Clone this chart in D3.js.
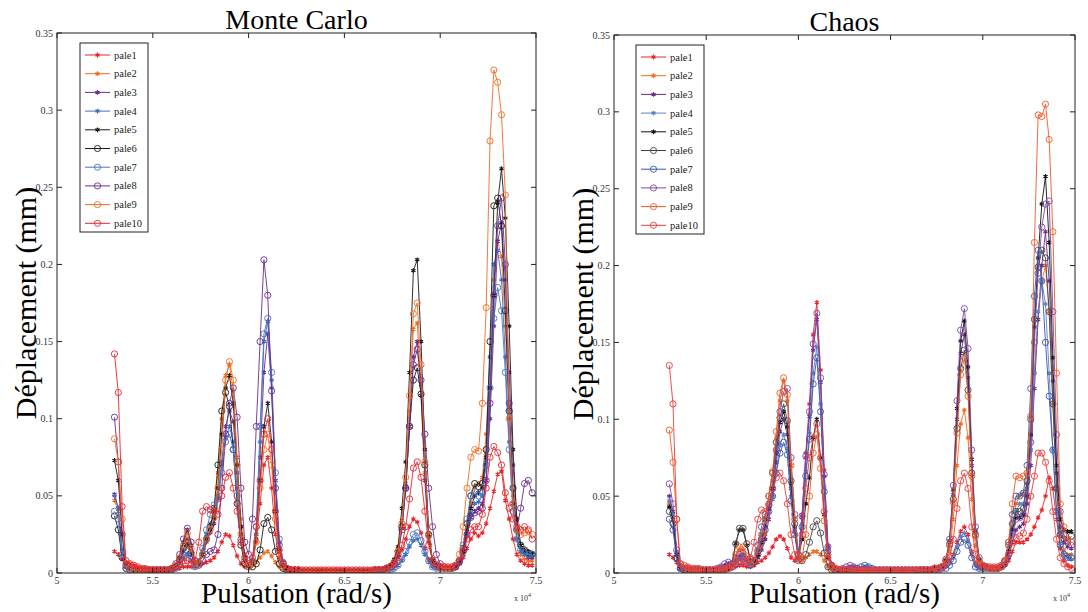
<!DOCTYPE html>
<html><head><meta charset="utf-8">
<script src="https://cdn.jsdelivr.net/npm/d3@7"></script>
<style>
body{margin:0;background:#fff}
svg{display:block}
</style>
</head><body>
<svg id="chart" width="1088" height="612" font-family="'Liberation Serif','Times New Roman',Times,serif"></svg>
<script>
// Pulsation (x 10^4 rad/s)
const pulsation = [
5.30,5.32,5.34,5.36,5.38,5.40,5.42,5.44,5.46,5.48,
5.50,5.52,5.54,5.56,5.58,5.60,5.62,5.64,5.66,5.68,
5.70,5.72,5.74,5.76,5.78,5.80,5.82,5.84,5.86,5.88,
5.90,5.92,5.94,5.96,5.98,6.00,6.02,6.04,6.06,6.08,
6.10,6.12,6.14,6.16,6.18,6.20,6.22,6.24,6.26,6.28,
6.30,6.32,6.34,6.36,6.38,6.40,6.42,6.44,6.46,6.48,
6.50,6.52,6.54,6.56,6.58,6.60,6.62,6.64,6.66,6.68,
6.70,6.72,6.74,6.76,6.78,6.80,6.82,6.84,6.86,6.88,
6.90,6.92,6.94,6.96,6.98,7.00,7.02,7.04,7.06,7.08,
7.10,7.12,7.14,7.16,7.18,7.20,7.22,7.24,7.26,7.28,
7.30,7.32,7.34,7.36,7.38,7.40,7.42,7.44,7.46,7.48];

const seriesNames = ["pale1","pale2","pale3","pale4","pale5","pale6","pale7","pale8","pale9","pale10"];

// Déplacement in micrometres (1e-3 mm) — Monte Carlo
const mcPale1 = [14,12,9,7,6,5,4,3,3,2, 2,2,2,2,2,2,3,3,4,4, 4,4,5,6,7,8,10,14,20,25, 24,18,11,6,4,4,8,20,45,70, 75,55,25,10,5,3,2,2,2,2, 2,2,2,2,2,2,2,2,2,2, 2,2,2,2,2,2,2,2,3,3, 3,4,5,7,10,15,22,30,35,33, 26,16,9,5,4,3,3,3,3,4, 6,10,16,22,26,24,26,32,42,53, 64,66,47,35,22,12,8,6,5,5];
const mcPale2 = [47,40,14,4,3,2,2,2,2,2, 2,2,2,2,2,2,3,6,15,22, 14,6,8,15,25,30,40,65,100,128, 135,118,75,35,12,5,5,7,10,13, 14,11,7,4,3,2,2,2,2,1, 1,1,1,1,1,1,1,1,1,1, 1,1,1,1,1,1,1,2,2,2, 2,3,4,7,14,34,58,105,158,162, 122,65,22,8,5,4,3,3,3,4, 8,16,30,45,55,58,62,90,140,190, 215,205,160,100,50,22,12,9,8,8];
const mcPale3 = [51,42,15,4,3,2,2,2,2,2, 2,2,2,2,2,3,4,8,14,18, 12,5,6,12,20,26,32,48,72,95, 105,98,65,30,10,5,8,25,75,130, 155,120,60,20,7,3,2,2,2,1, 1,1,1,1,1,1,1,1,1,1, 1,1,1,1,1,1,1,1,2,2, 2,3,4,6,12,30,55,95,140,150, 115,60,20,8,5,4,3,3,3,4, 6,12,25,36,40,42,45,60,100,160, 215,227,190,130,70,35,18,12,10,10];
const mcPale4 = [50,42,15,4,3,2,2,2,2,2, 2,2,2,2,2,2,3,6,10,12, 8,4,6,14,25,32,38,50,70,88, 95,85,55,25,8,4,7,25,85,150, 163,125,60,20,7,3,2,2,2,1, 1,1,1,1,1,1,1,1,1,1, 1,1,1,1,1,1,1,1,1,1, 1,2,2,3,5,8,12,17,21,22, 18,12,7,4,3,3,3,3,3,4, 6,12,25,38,45,46,50,75,140,200, 209,190,140,85,45,22,14,12,11,12];
const mcPale5 = [73,60,25,5,3,2,2,2,2,2, 2,2,2,2,2,3,5,10,20,28, 18,7,6,12,22,28,35,55,90,120, 128,110,70,30,10,5,8,22,60,95, 110,85,40,15,5,3,2,2,2,1, 1,1,1,1,1,1,1,1,1,1, 1,1,1,1,1,1,1,1,2,2, 2,3,5,9,17,42,72,130,196,203, 150,80,25,8,5,4,3,3,3,4, 7,14,28,42,50,52,55,75,120,180, 240,262,230,160,80,35,18,15,14,13];
const mcPale6 = [37,28,10,3,2,2,2,2,2,2, 2,2,2,2,2,3,4,9,16,20, 13,6,6,12,22,30,42,70,105,117, 108,80,45,18,6,4,4,6,15,32, 36,28,14,6,3,2,2,1,1,1, 1,1,1,1,1,1,1,1,1,1, 1,1,1,1,1,1,1,1,2,2, 2,3,4,7,14,30,55,95,125,133, 116,70,25,8,5,4,3,3,3,4, 8,16,32,50,58,56,58,80,150,238, 243,225,170,105,55,28,18,15,13,12];
const mcPale7 = [40,35,12,3,2,2,2,2,2,2, 2,2,2,2,2,2,3,6,10,14, 9,4,7,16,28,38,44,48,65,85, 90,80,50,22,8,4,8,30,95,155, 165,130,65,22,7,3,2,2,2,1, 1,1,1,1,1,1,1,1,1,1, 1,1,1,1,1,1,1,1,1,1, 1,2,2,3,5,9,14,20,25,26, 21,14,8,4,3,3,3,3,3,4, 8,18,35,50,53,50,52,70,120,165, 185,170,130,80,40,22,15,13,12,12];
const mcPale8 = [101,72,25,5,3,2,2,2,2,2, 2,2,2,2,2,3,6,12,22,29, 20,8,5,8,12,14,15,25,55,90, 110,120,101,55,20,12,35,95,150,203, 180,118,55,18,6,3,2,2,2,1, 1,1,1,1,1,1,1,1,1,1, 1,1,1,1,1,1,1,1,2,2, 2,3,4,6,12,28,55,95,135,145, 125,90,55,30,12,6,4,3,3,4, 7,14,25,36,39,40,42,60,110,180, 225,243,200,110,45,28,42,58,60,52];
const mcPale9 = [87,72,35,6,3,2,2,2,2,2, 2,2,2,2,2,3,5,10,18,26, 16,6,6,12,22,28,36,55,80,125, 137,125,70,25,8,4,6,20,55,80, 90,70,35,12,5,3,2,2,2,1, 1,1,1,1,1,1,1,1,1,1, 1,1,1,1,1,1,1,1,2,2, 2,3,4,7,14,32,62,115,168,175, 135,72,24,8,5,4,3,3,3,5, 12,30,55,75,80,79,110,172,280,326, 318,297,245,100,45,28,25,26,27,25];
const mcPale10 = [142,117,43,8,6,5,4,3,3,2, 2,2,2,2,2,3,4,6,8,8, 6,8,20,40,43,41,40,38,50,62, 65,55,40,20,10,6,10,30,60,90, 100,80,40,15,6,3,2,2,2,2, 2,2,2,2,2,2,2,2,2,2, 2,2,2,2,2,2,2,2,2,2, 2,3,4,6,10,18,30,48,68,72, 62,40,18,8,5,4,4,4,4,5, 8,14,22,28,30,30,38,55,75,82, 78,70,52,42,35,30,28,30,28,22];

// Déplacement in micrometres (1e-3 mm) — Chaos
const chPale1 = [12,10,7,5,4,4,3,3,3,2, 2,2,2,2,3,3,3,3,4,5, 5,4,4,5,7,8,10,13,17,22, 24,22,16,10,8,10,38,78,110,155, 176,132,67,18,6,3,2,2,2,2, 2,2,2,2,2,2,2,2,2,2, 2,2,2,2,2,2,2,2,2,3, 3,3,4,4,5,6,8,12,20,27, 30,25,14,6,4,3,3,3,3,3, 4,5,8,14,20,20,20,22,25,30, 36,41,50,62,55,35,16,8,5,4];
const chPale2 = [45,35,12,3,2,2,2,2,2,2, 2,2,2,2,2,2,3,5,11,15, 15,9,5,7,12,18,25,40,60,88, 112,125,112,70,35,12,8,10,12,14, 14,12,8,4,2,2,2,2,2,2, 1,1,1,1,1,1,1,1,1,1, 1,1,1,1,1,1,1,1,2,2, 2,2,3,3,4,6,14,35,70,97, 106,88,48,18,6,4,3,3,3,3, 4,6,12,28,45,50,52,58,80,130, 165,190,200,170,110,55,25,15,12,12];
const chPale3 = [50,40,13,3,2,2,2,2,2,2, 2,2,2,3,4,5,6,5,8,11, 12,8,5,6,10,15,22,35,50,72, 92,100,90,55,28,10,36,75,102,145, 165,124,63,17,5,3,2,2,3,4, 4,3,2,2,2,2,2,2,2,2, 2,2,2,2,2,2,2,2,2,2, 2,2,3,3,4,8,20,51,100,143, 155,127,70,26,9,5,4,3,3,3, 4,5,10,20,28,30,32,45,70,120, 165,200,222,190,125,65,30,20,17,16];
const chPale4 = [47,38,14,3,2,2,2,2,2,2, 2,2,2,2,2,2,3,4,6,9, 10,7,5,8,15,25,35,40,48,66, 83,90,81,50,27,9,32,66,91,130, 147,110,56,15,5,3,2,2,2,2, 2,2,3,4,4,3,2,2,2,2, 2,2,2,2,2,2,2,2,2,2, 1,2,2,2,3,4,6,10,17,24, 26,21,12,5,3,3,3,3,3,3, 4,6,12,25,40,45,45,55,80,130, 170,190,175,130,80,40,18,12,10,9];
const chPale5 = [43,35,12,3,2,2,2,2,2,2, 2,2,2,2,2,2,3,6,19,28, 28,18,8,7,12,20,30,42,55,78, 98,105,95,58,30,10,22,45,62,88, 100,75,38,10,4,2,2,2,2,2, 1,1,1,1,1,1,1,1,1,1, 1,1,1,1,1,1,1,1,2,2, 2,2,3,3,4,8,21,54,107,151, 164,134,74,28,9,5,4,3,3,3, 4,6,14,28,36,36,38,50,90,160, 205,240,258,215,140,70,35,28,27,27];
const chPale6 = [40,32,10,3,2,2,2,2,2,2, 2,2,2,2,2,2,3,6,19,29, 29,19,9,7,12,22,35,50,65,85, 101,110,99,60,32,12,8,12,20,30, 34,26,13,4,2,2,2,2,2,2, 1,1,1,1,1,1,1,1,1,1, 1,1,1,1,1,1,1,1,2,2, 2,2,3,3,4,8,19,48,94,133, 145,119,65,25,8,5,4,3,3,3, 4,8,18,32,40,40,42,60,100,165, 199,210,205,170,110,55,25,22,21,24];
const chPale7 = [35,28,9,3,2,2,2,2,2,2, 2,2,2,2,2,2,3,4,6,8, 9,7,5,8,18,30,38,44,50,65, 78,85,77,47,25,9,30,63,87,123, 140,105,53,14,5,3,2,2,2,2, 2,3,4,5,4,3,2,2,2,2, 2,2,2,2,2,2,2,2,2,2, 1,2,2,2,3,3,5,8,14,20, 22,18,10,4,3,3,3,3,3,3, 4,8,20,38,50,50,52,70,120,180, 210,190,150,115,80,40,18,12,10,10];
const chPale8 = [58,45,15,4,2,2,2,2,2,2, 2,2,2,3,4,6,7,6,9,12, 13,9,6,8,14,20,28,40,55,80, 105,118,120,75,38,12,37,76,105,149, 169,127,64,17,5,3,2,3,4,5, 4,3,2,2,2,2,2,2,2,2, 2,2,2,2,2,2,2,2,2,2, 2,2,3,3,4,9,22,57,112,158, 172,146,80,30,10,5,4,3,3,3, 4,6,12,25,35,36,38,50,85,150, 195,225,240,242,170,90,40,25,20,18];
const chPale9 = [93,72,35,6,3,2,2,2,2,2, 2,2,2,2,2,2,3,5,12,17, 17,11,6,8,15,25,35,50,66,92, 117,127,116,70,35,10,10,25,50,78, 90,68,34,10,4,3,2,2,2,2, 1,1,1,1,1,1,1,1,1,1, 1,1,1,1,1,1,1,1,2,2, 2,2,3,3,4,8,18,46,91,129, 140,115,63,24,8,5,4,3,3,3, 4,8,20,45,63,62,63,65,102,215, 298,297,305,282,222,130,45,30,22,20];
const chPale10 = [135,110,35,6,5,4,3,3,3,2, 2,2,2,2,2,3,3,4,6,8, 8,7,10,20,35,41,40,45,55,62, 65,60,45,25,12,8,25,55,75,88, 97,75,40,12,5,3,2,2,2,2, 2,2,2,2,2,2,2,2,2,2, 2,2,2,2,2,2,2,2,2,2, 2,2,3,3,4,6,10,22,42,60, 65,55,30,12,6,4,4,4,4,4, 5,7,12,20,23,24,26,35,50,63, 78,78,72,60,40,22,10,6,4,3];

const mcSeries = [mcPale1,mcPale2,mcPale3,mcPale4,mcPale5,mcPale6,mcPale7,mcPale8,mcPale9,mcPale10];
const chSeries = [chPale1,chPale2,chPale3,chPale4,chPale5,chPale6,chPale7,chPale8,chPale9,chPale10];

const xTicks = [5,5.5,6,6.5,7,7.5];
const xTickLabels = ["5","5.5","6","6.5","7","7.5"];
const yTicks = [0,0.05,0.1,0.15,0.2,0.25,0.3,0.35];
const yTickLabels = ["0","0.05","0.1","0.15","0.2","0.25","0.3","0.35"];
const panelTitles = ["Monte Carlo","Chaos"];
const xLabel = "Pulsation (rad/s)";
const yLabel = "Déplacement (mm)";

// styles
const FONT = "'Liberation Serif','Times New Roman',Times,serif";
const mcColors = ["#e8262d","#f26c21","#6b2d8f","#3f6fba","#1a1a1a","#1a1a1a","#4a74c0","#6b2d8f","#f26c21","#e8262d"];
const chColors = ["#e8262d","#f26c21","#6b2d8f","#5b82c8","#111111","#444444","#3556a8","#7d46a3","#f15a24","#ec3b3b"];
const markers = ["star","star","star","star","star","circle","circle","circle","circle","circle"];

const svg = d3.select("#chart");

function T(sel){ return sel.attr("font-family",FONT); }

function drawPanel(cfg){
  const {left,right,top,bottom,series,colors,title,legendX,legendY} = cfg;
  const x = d3.scaleLinear().domain([5,7.5]).range([left,right]);
  const y = d3.scaleLinear().domain([0,0.35]).range([bottom,top]);
  const g = svg.append("g");

  const cid = "clip"+left;
  svg.append("clipPath").attr("id",cid).append("rect")
    .attr("x",left).attr("y",top).attr("width",right-left).attr("height",bottom-top);
  const plot = g.append("g").attr("clip-path",`url(#${cid})`);

  const line = d3.line().x((d,i)=>x(pulsation[i])).y(d=>y(d/1000));
  series.forEach((vals,k)=>{
    const col = colors[k];
    plot.append("path").datum(vals).attr("d",line)
      .attr("fill","none").attr("stroke",col).attr("stroke-width",0.9);
    const mg = plot.append("g");
    if(markers[k]==="star"){
      const sym = d3.symbol().type(d3.symbolAsterisk).size(16)();
      mg.selectAll("path").data(vals).join("path")
        .attr("d",sym)
        .attr("transform",(d,i)=>`translate(${x(pulsation[i])},${y(d/1000)})`)
        .attr("fill","none").attr("stroke",col).attr("stroke-width",1.2);
    } else {
      mg.selectAll("circle").data(vals).join("circle")
        .attr("cx",(d,i)=>x(pulsation[i])).attr("cy",d=>y(d/1000)).attr("r",3.1)
        .attr("fill","none").attr("stroke",col).attr("stroke-width",0.9);
    }
  });

  g.append("rect").attr("x",left).attr("y",top).attr("width",right-left).attr("height",bottom-top)
    .attr("fill","none").attr("stroke","#222").attr("stroke-width",1);

  const tl = 5;
  xTicks.forEach((t,i)=>{
    const px = x(t);
    g.append("line").attr("x1",px).attr("x2",px).attr("y1",bottom).attr("y2",bottom-tl).attr("stroke","#222");
    g.append("line").attr("x1",px).attr("x2",px).attr("y1",top).attr("y2",top+tl).attr("stroke","#222");
    T(g.append("text")).attr("x",px).attr("y",bottom+11).attr("text-anchor","middle")
      .attr("font-size",10).attr("fill","#333").text(xTickLabels[i]);
  });
  yTicks.forEach((t,i)=>{
    const py = y(t);
    g.append("line").attr("x1",left).attr("x2",left+tl).attr("y1",py).attr("y2",py).attr("stroke","#222");
    g.append("line").attr("x1",right).attr("x2",right-tl).attr("y1",py).attr("y2",py).attr("stroke","#222");
    T(g.append("text")).attr("x",left-4).attr("y",py+3.5).attr("text-anchor","end")
      .attr("font-size",10).attr("fill","#333").text(yTickLabels[i]);
  });

  const ex = T(g.append("text")).attr("x",right-22).attr("y",bottom+28).attr("font-size",8).attr("fill","#333");
  ex.append("tspan").text("x 10");
  ex.append("tspan").attr("dy",-4).attr("font-size",6).text("4");

  const cx = (left+right)/2;
  T(g.append("text")).attr("x",cx).attr("y",top-4).attr("text-anchor","middle").attr("font-size",28).attr("fill","#000").text(title);
  T(g.append("text")).attr("x",cx).attr("y",bottom+30).attr("text-anchor","middle").attr("font-size",29).attr("fill","#000").text(xLabel);
  T(g.append("text")).attr("transform",`translate(${left-21},${(top+bottom)/2}) rotate(-90)`)
    .attr("text-anchor","middle").attr("font-size",30).attr("fill","#000").text(yLabel);

  const lw = 68, rowH = 18.7, lh = 189;
  const lg = g.append("g");
  lg.append("rect").attr("x",legendX).attr("y",legendY).attr("width",lw).attr("height",lh)
    .attr("fill","#fff").attr("stroke","#222").attr("stroke-width",1);
  seriesNames.forEach((n,k)=>{
    const ry = legendY + 12 + rowH*k;
    const col = colors[k];
    lg.append("line").attr("x1",legendX+5).attr("x2",legendX+30).attr("y1",ry).attr("y2",ry)
      .attr("stroke",col).attr("stroke-width",1);
    if(markers[k]==="star"){
      lg.append("path").attr("d",d3.symbol().type(d3.symbolAsterisk).size(16)())
        .attr("transform",`translate(${legendX+17.5},${ry})`).attr("fill","none").attr("stroke",col).attr("stroke-width",1.2);
    } else {
      lg.append("circle").attr("cx",legendX+17.5).attr("cy",ry).attr("r",3.1)
        .attr("fill","none").attr("stroke",col).attr("stroke-width",0.9);
    }
    T(lg.append("text")).attr("x",legendX+34).attr("y",ry+3.5).attr("font-size",10.5).attr("fill","#222").text(n);
  });
}

drawPanel({left:57,right:536,top:33,bottom:573,series:mcSeries,colors:mcColors,title:panelTitles[0],legendX:80,legendY:43});
drawPanel({left:614,right:1075,top:35,bottom:573,series:chSeries,colors:chColors,title:panelTitles[1],legendX:636,legendY:45});
</script>
</body></html>
